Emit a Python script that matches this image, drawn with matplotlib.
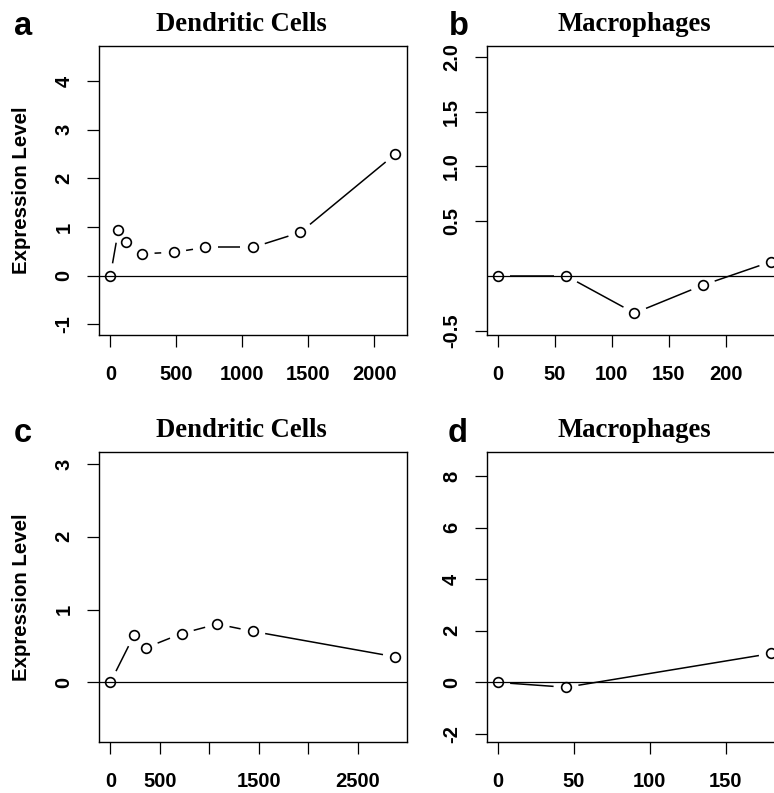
import numpy as np
import matplotlib
matplotlib.use("Agg")
import matplotlib.pyplot as plt
from matplotlib import font_manager

plt.rcParams['font.family'] = 'Liberation Sans'
names = {f.name for f in font_manager.fontManager.ttflist}
NARROW = 'Liberation Sans Narrow' if 'Liberation Sans Narrow' in names else None

# panel a - dendritic cells
a_time = [0, 60, 120, 240, 480, 720, 1080, 1440, 2160]
a_expr = [0.0, 0.93, 0.69, 0.45, 0.48, 0.58, 0.58, 0.89, 2.50]
# panel b - macrophages
b_time = [0, 60, 120, 180, 240]
b_expr = [0.0, 0.0, -0.34, -0.085, 0.13]
# panel c - dendritic cells
c_time = [0, 240, 360, 720, 1080, 1440, 2880]
c_expr = [0.0, 0.65, 0.475, 0.67, 0.80, 0.70, 0.35]
# panel d - macrophages
d_time = [0, 45, 180]
d_expr = [0.0, -0.19, 1.12]

a_xticks = [0, 500, 1000, 1500, 2000]
a_xlabels = ['0', '500', '1000', '1500', '2000']
a_yticks = [-1, 0, 1, 2, 3, 4]
a_ylabels = ['-1', '0', '1', '2', '3', '4']
b_xticks = [0, 50, 100, 150, 200]
b_xlabels = ['0', '50', '100', '150', '200']
b_yticks = [-0.5, 0.5, 1.0, 1.5, 2.0]
b_ylabels = ['-0.5', '0.5', '1.0', '1.5', '2.0']
c_xticks = [0, 500, 1000, 1500, 2000, 2500]
c_xlabels = ['0', '500', '', '1500', '', '2500']
c_yticks = [0, 1, 2, 3]
c_ylabels = ['0', '1', '2', '3']
d_xticks = [0, 50, 100, 150]
d_xlabels = ['0', '50', '100', '150']
d_yticks = [-2, 0, 2, 4, 6, 8]
d_ylabels = ['-2', '0', '2', '4', '6', '8']

W, H = 774, 793
fig = plt.figure(figsize=(W / 100, H / 100), dpi=100)


def px_axes(left, right, top, bottom):
    return fig.add_axes([left / W, 1 - bottom / H, (right - left) / W, (bottom - top) / H])


def gapped_line(ax, x, y, gap=12.5):
    # R type="b": segments stop short of each point
    pts = ax.transData.transform(np.column_stack([x, y]))
    inv = ax.transData.inverted()
    for p0, p1 in zip(pts[:-1], pts[1:]):
        d = p1 - p0
        L = np.hypot(*d)
        if L <= 2 * gap:
            continue
        u = d / L
        s = inv.transform(p0 + u * gap)
        e = inv.transform(p1 - u * gap)
        ax.plot([s[0], e[0]], [s[1], e[1]], color='black', lw=1.1, solid_capstyle='butt')


def panel(ax, x, y, xlim, ylim, xt, xl, yt, yl, title, ylabel=False, title_x=0.5):
    ax.set_xlim(*xlim)
    ax.set_ylim(*ylim)
    ax.axhline(0, color='black', lw=0.9, zorder=3)
    gapped_line(ax, x, y)
    ax.plot(x, y, 'o', ms=7, mfc='none', mec='black', mew=1.2, zorder=4)
    ax.set_xticks(xt)
    if NARROW:
        ax.set_xticklabels(xl, fontsize=16.5, fontweight='bold', family=NARROW)
    else:
        ax.set_xticklabels(xl, fontsize=14.5, fontweight='bold')
    ax.set_yticks(yt)
    ax.set_yticklabels(yl, fontsize=14.5, fontweight='bold', rotation=90, va='center')
    ax.tick_params(axis='x', direction='out', length=8.5, width=0.9, pad=13)
    ax.tick_params(axis='y', direction='out', length=8.5, width=0.9, pad=10)
    for sp in ax.spines.values():
        sp.set_linewidth(1.0)
        sp.set_zorder(6)
    ax.text(title_x, 1 + 15 / 289, title, transform=ax.transAxes, ha='center', va='baseline',
            fontsize=19.2, fontweight='bold', family='Liberation Serif')
    if ylabel:
        ax.set_ylabel('Expression Level', fontsize=14.7, fontweight='bold')
        ax.yaxis.set_label_coords(-0.222, 0.5)
    return ax


ax_a = px_axes(99, 406.7, 46, 335)
panel(ax_a, a_time, a_expr, (-86.4, 2246.4), (-1.22, 4.72), a_xticks, a_xlabels,
      a_yticks, a_ylabels, 'Dendritic Cells', ylabel=True, title_x=0.4615)
ax_b = px_axes(486.7, 782.2, 46, 335)
panel(ax_b, b_time, b_expr, (-9.6, 249.6), (-0.54, 2.098), b_xticks, b_xlabels,
      b_yticks, b_ylabels, 'Macrophages')
ax_c = px_axes(99, 406.7, 452.3, 741.7)
panel(ax_c, c_time, c_expr, (-115.2, 2995.2), (-0.816, 3.16), c_xticks, c_xlabels,
      c_yticks, c_ylabels, 'Dendritic Cells', ylabel=True, title_x=0.4615)
ax_d = px_axes(486.7, 782.2, 452.3, 741.7)
panel(ax_d, d_time, d_expr, (-7.2, 187.2), (-2.3, 8.92), d_xticks, d_xlabels,
      d_yticks, d_ylabels, 'Macrophages')

# panel letters
for lx, ly, s in [(14, 35, 'a'), (449, 35, 'b'), (14, 441.7, 'c'), (448, 441.7, 'd')]:
    fig.text(lx / W, 1 - ly / H, s, fontsize=23.5, fontweight='bold', ha='left', va='baseline')

fig.savefig('out.png', dpi=100, facecolor='white')
